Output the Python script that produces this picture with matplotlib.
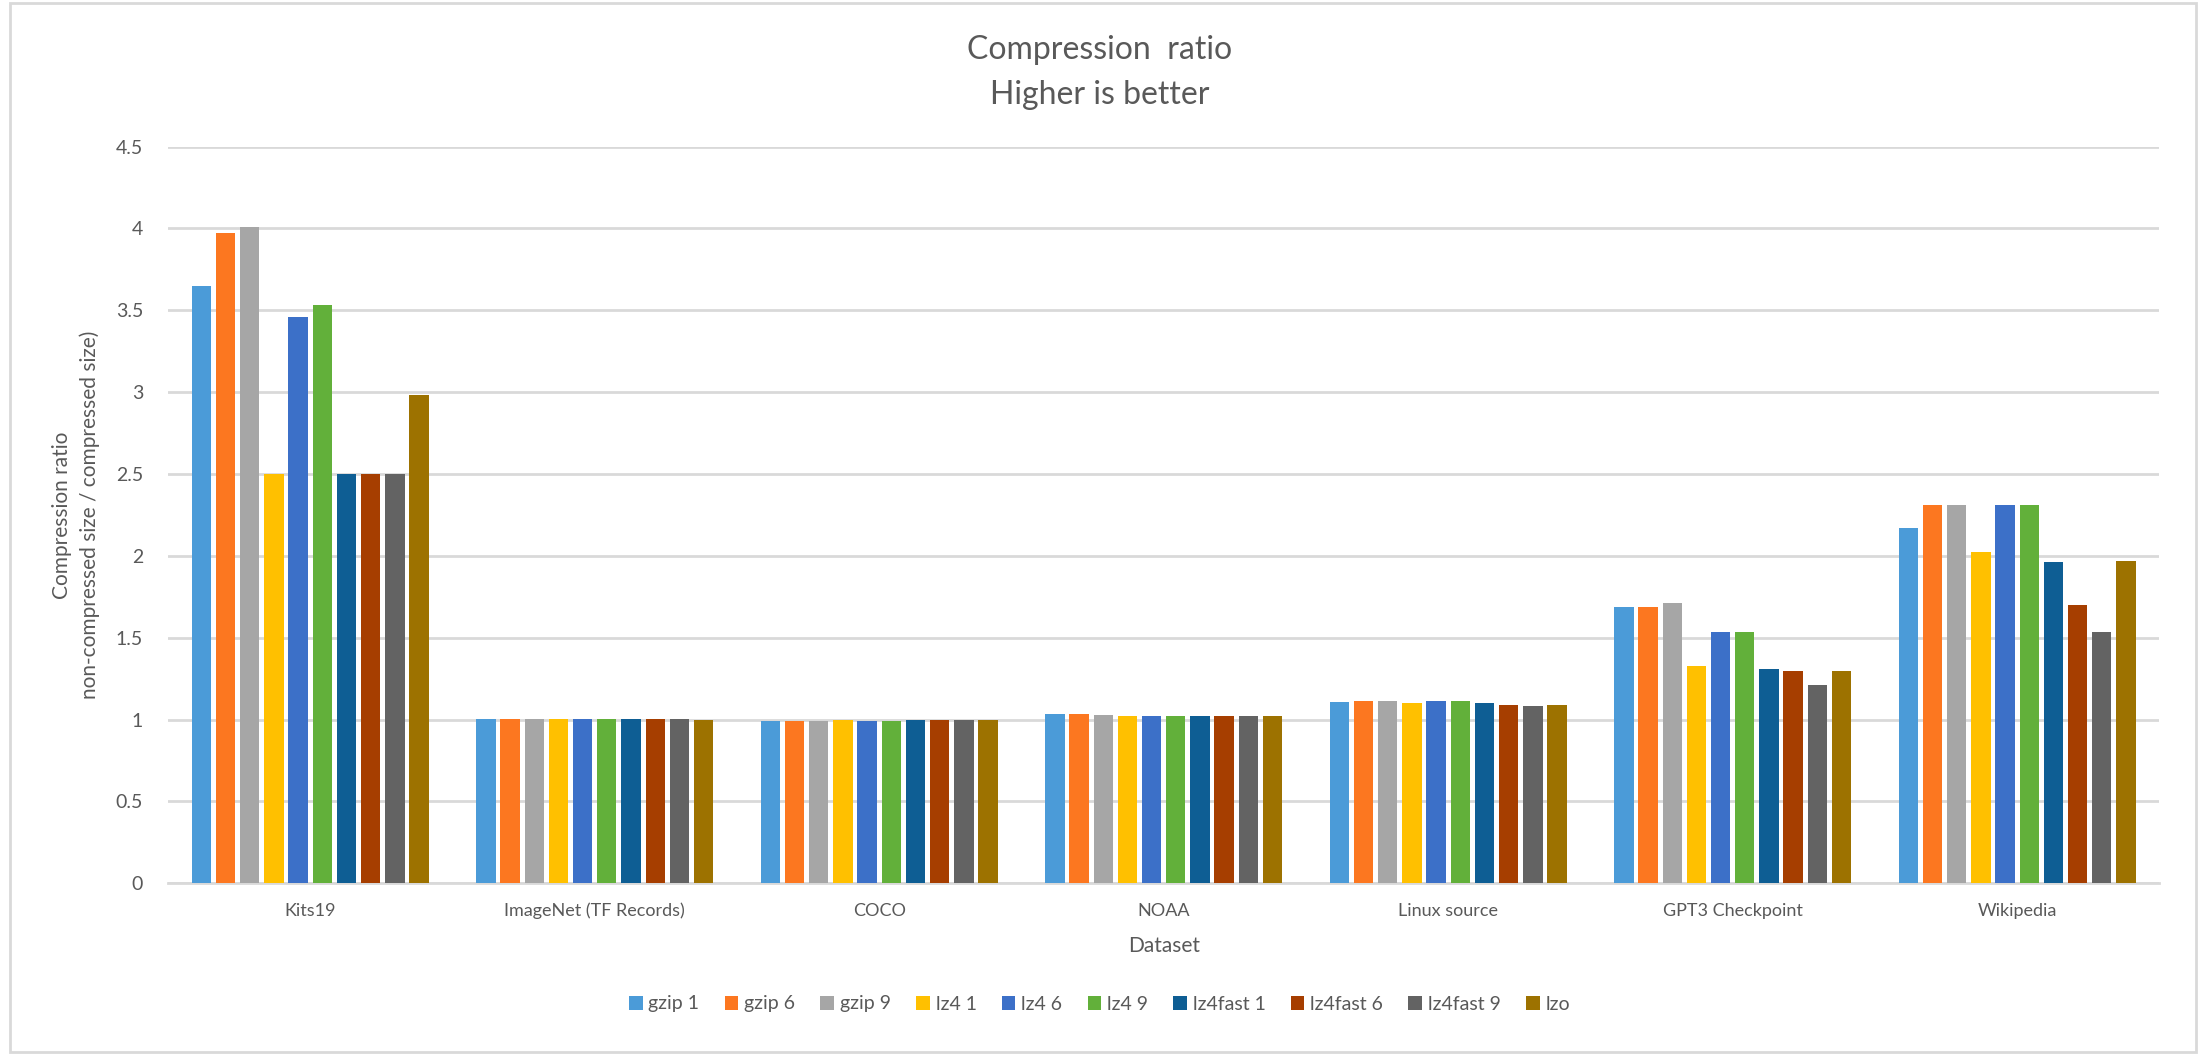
import matplotlib
matplotlib.use("Agg")
import matplotlib.pyplot as plt
import numpy as np
from matplotlib.patches import Rectangle

# datasets on the x axis
datasets = ["Kits19", "ImageNet (TF Records)", "COCO", "NOAA",
            "Linux source", "GPT3 Checkpoint", "Wikipedia"]

# one list per compressor, values in dataset order
gzip_1 = [3.645, 1.005, 0.99, 1.035, 1.107, 1.69, 2.171]
gzip_6 = [3.97, 1.005, 0.99, 1.035, 1.114, 1.69, 2.31]
gzip_9 = [4.01, 1.005, 0.99, 1.03, 1.114, 1.714, 2.31]
lz4_1 = [2.50, 1.005, 0.998, 1.022, 1.10, 1.327, 2.024]
lz4_6 = [3.46, 1.005, 0.99, 1.022, 1.114, 1.537, 2.31]
lz4_9 = [3.53, 1.005, 0.99, 1.022, 1.114, 1.537, 2.31]
lz4fast_1 = [2.50, 1.005, 0.998, 1.022, 1.10, 1.306, 1.961]
lz4fast_6 = [2.50, 1.005, 0.998, 1.022, 1.09, 1.296, 1.70]
lz4fast_9 = [2.50, 1.005, 0.998, 1.022, 1.083, 1.212, 1.537]
lzo = [2.98, 0.998, 0.998, 1.022, 1.09, 1.296, 1.969]

series_names = ["gzip 1", "gzip 6", "gzip 9", "lz4 1", "lz4 6", "lz4 9",
                "lz4fast 1", "lz4fast 6", "lz4fast 9", "lzo"]
series_values = [gzip_1, gzip_6, gzip_9, lz4_1, lz4_6, lz4_9,
                 lz4fast_1, lz4fast_6, lz4fast_9, lzo]
colors = ["#4B9BD8", "#FC7720", "#A6A6A6", "#FFC000", "#3C70C8",
          "#62B03A", "#0E5E94", "#A63E00", "#636363", "#9D7200"]

y_ticks = [0, 0.5, 1, 1.5, 2, 2.5, 3, 3.5, 4, 4.5]
y_tick_labels = ["0", "0.5", "1", "1.5", "2", "2.5", "3", "3.5", "4", "4.5"]

plt.rcParams["font.family"] = ["Lato", "DejaVu Sans"]
text_gray = "#595959"
grid_gray = "#D9D9D9"

fig = plt.figure(figsize=(21.99, 10.54), dpi=100)
ax = fig.add_axes([0.0764, 0.162, 0.9056, 0.699])

# grouped bars: 10 slots inside 85% of each category
n = len(series_names)
slot = 0.085
bar_w = slot * 0.8
x = np.arange(len(datasets))
for i, (name, vals, c) in enumerate(zip(series_names, series_values, colors)):
    offs = (i - (n - 1) / 2) * slot
    ax.bar(x + offs, vals, width=bar_w, color=c, label=name, zorder=3)

ax.set_xlim(-0.5, len(datasets) - 0.5)
ax.set_ylim(0, 4.5)
ax.set_yticks(y_ticks)
ax.set_yticklabels(y_tick_labels)
ax.set_xticks(x)
ax.set_xticklabels(datasets)
ax.tick_params(axis="both", length=0, colors=text_gray, labelsize=14)
ax.tick_params(axis="y", pad=18)
ax.tick_params(axis="x", pad=14, labelsize=13)
ax.grid(axis="y", color=grid_gray, linewidth=2, zorder=0)
for side in ["top", "right", "left"]:
    ax.spines[side].set_visible(False)
ax.spines["bottom"].set_color(grid_gray)
ax.spines["bottom"].set_linewidth(2)

ax.set_xlabel("Dataset", fontsize=15, color=text_gray, labelpad=12)
ax.set_ylabel("Compression ratio\nnon-compressed size / compressed size)",
              fontsize=15, color=text_gray, labelpad=11, linespacing=1.45)

fig.text(0.5, 1 - 50 / 1054, "Compression  ratio", ha="center", va="center",
         fontsize=23, color=text_gray)
fig.text(0.5, 1 - 95 / 1054, "Higher is better", ha="center", va="center",
         fontsize=23, color=text_gray)

leg = fig.legend(loc="center", bbox_to_anchor=(0.5, 1 - 1004 / 1054), ncol=n,
                 frameon=False, fontsize=14, handlelength=0.7, handleheight=0.7,
                 handletextpad=0.3, columnspacing=1.3)
for t in leg.get_texts():
    t.set_color(text_gray)

# light frame around the whole chart like the spreadsheet export
fig.patches.append(Rectangle((10 / 2199, 2 / 1054), 2186 / 2199, 1049 / 1054,
                             transform=fig.transFigure, fill=False,
                             edgecolor="#D9D9D9", linewidth=2))

fig.savefig("out.png", dpi=100)
